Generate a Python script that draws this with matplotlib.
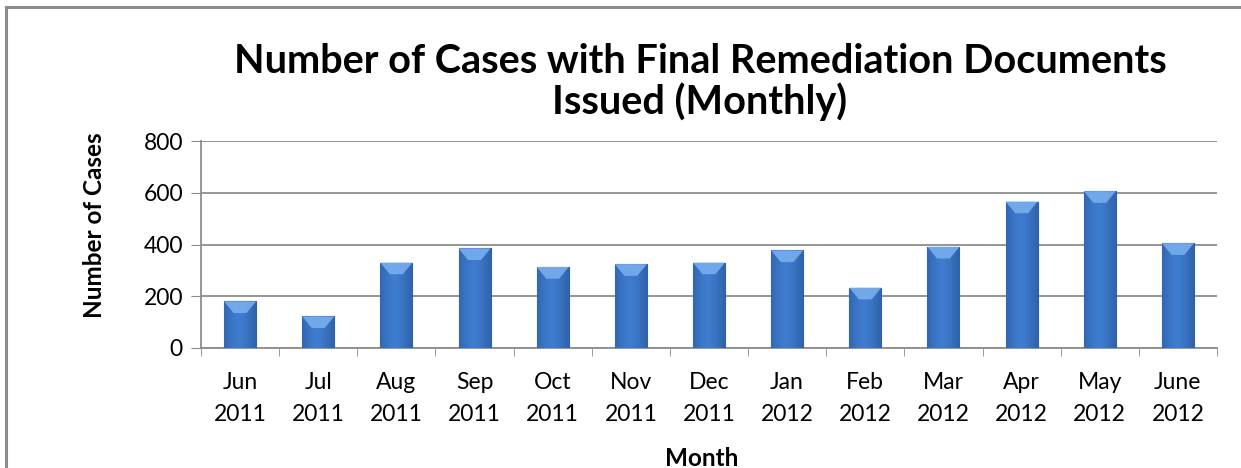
import numpy as np
from matplotlib import pyplot as plt
from matplotlib.lines import Line2D

# data
months = ['Jun\n2011', 'Jul\n2011', 'Aug\n2011', 'Sep\n2011', 'Oct\n2011', 'Nov\n2011',
          'Dec\n2011', 'Jan\n2012', 'Feb\n2012', 'Mar\n2012', 'Apr\n2012', 'May\n2012',
          'June\n2012']
cases = [180, 122, 330, 385, 313, 324, 330, 377, 233, 391, 566, 606, 405]
y_ticks = [0, 200, 400, 600, 800]

plt.rcParams['font.family'] = ['Lato', 'DejaVu Sans']

fig = plt.figure(figsize=(12.41, 4.68), dpi=100)
ax = fig.add_axes([201 / 1241, 1 - 348 / 468, (1217 - 201) / 1241, (348 - 141) / 468])

x = np.arange(len(months))
bars = ax.bar(x, cases, width=0.41, color='#3A72BE', edgecolor='#24497F',
              linewidth=0.8, zorder=3)

# horizontal gradient inside every bar, like the bevelled Excel bars
grad = np.linspace(0, 1, 64)
shade = 1 - 0.55 * np.abs(grad - 0.45) ** 1.3 * 2
cmap_vals = np.zeros((1, 64, 3))
base = np.array([0x3F, 0x7D, 0xD0]) / 255
dark = np.array([0x1F, 0x45, 0x80]) / 255
for i in range(64):
    t = np.clip(1 - shade[i], 0, 1)
    cmap_vals[0, i] = base * (1 - t) + dark * t
for b in bars:
    x0, w, h = b.get_x(), b.get_width(), b.get_height()
    im = ax.imshow(cmap_vals, extent=[x0, x0 + w, 0, h], aspect='auto', zorder=3.5,
                   interpolation='bilinear')
    im.set_clip_path(b)
    # light chevron at the top of the bar
    cap = min(45, h * 0.4)
    ax.fill([x0, x0 + w, x0 + w * 0.7, x0 + w * 0.3], [h, h, h - cap, h - cap],
            color='#78AEEE', alpha=0.9, zorder=4, linewidth=0)

ax.set_xlim(-0.5, len(months) - 0.5)
ax.set_ylim(0, 800)
ax.set_yticks(y_ticks)
ax.set_xticks(x)
ax.set_xticklabels(months, fontsize=16.5, linespacing=1.65)
ax.set_xticks(np.arange(len(months) + 1) - 0.5, minor=True)
ax.tick_params(axis='x', which='major', length=0, pad=17)
ax.tick_params(axis='x', which='minor', length=6, color='#8C8C8C', direction='out')
ax.tick_params(axis='y', length=7, color='#8C8C8C', labelsize=16.5, pad=6)

ax.grid(axis='y', color='#8C8C8C', linewidth=1.3, zorder=0)
for s in ['top', 'right']:
    ax.spines[s].set_visible(False)
for s in ['left', 'bottom']:
    ax.spines[s].set_color('#8C8C8C')
    ax.spines[s].set_linewidth(1.3)

ax.set_ylabel('Number of Cases', fontsize=17.5, fontweight='bold', va='center')
ax.yaxis.set_label_coords((94 - 201) / 1016, (348 - 225) / 207)
ax.set_xlabel('Month', fontsize=17.5, fontweight='bold', va='center')
ax.xaxis.set_label_coords((702 - 201) / 1016, (348 - 458) / 207)

fig.text(700 / 1241, 1 - 82 / 468,
         'Number of Cases with Final Remediation Documents\nIssued (Monthly)',
         ha='center', va='center', fontsize=28.5, fontweight='bold', linespacing=1.05)

# chart frame (top and left edges visible)
fig.add_artist(Line2D([6 / 1241, 1], [1 - 7 / 468] * 2, color='#8C8C8C', linewidth=2.2))
fig.add_artist(Line2D([6 / 1241] * 2, [0, 1 - 7 / 468], color='#8C8C8C', linewidth=2.2))

plt.savefig('out.png', dpi=100)
